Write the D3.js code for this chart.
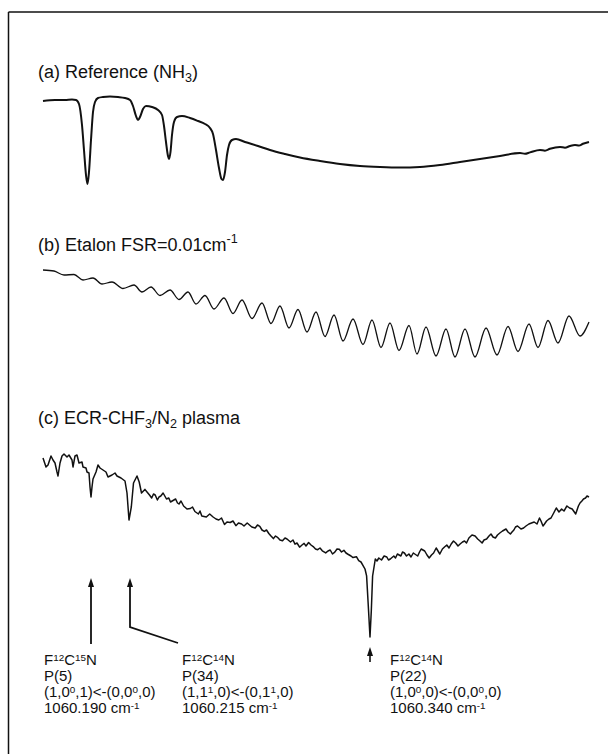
<!DOCTYPE html>
<html><head><meta charset="utf-8">
<script src="https://cdn.jsdelivr.net/npm/d3@7"></script>
<style>html,body{margin:0;padding:0;background:#fff;}svg{display:block;}</style>
</head><body>
<script>
// ---- DATA (scan channel, signal in arbitrary units) ----
const panelTitles = ["(a) Reference (NH_{3})", "(b) Etalon FSR=0.01cm^{-1}", "(c) ECR-CHF_{3}/N_{2} plasma"];

// (a) NH3 reference absorption: [channel, signal]
const refNH3 = [
 [0,84],[12,85],[22,85],[29,85.5],[33,85],[36,81],[39,60],[41,35],[43,10],[44.5,1],[46,13],[48,45],[50,73],[52,83],[55,87],[60,88],[67,88.5],[75,88],[82,87],[87,85],[90,79],[93,69],[95,65],[97,68],[100,76],[103,79],[109,78],[115,75],[119,70],[121,59],[123,43],[125,29],[126,26],[127.5,33],[129,50],[131,63],[134,68],[139,69],[147,67],[155,64],[162,61],[167,57],[170,51],[173,35],[176,17],[178.5,6],[180,5],[182,13],[184,30],[186,40],[189,45],[193,46],[202,43],[215,39],[227,35],[242,31],[257,27.5],[277,24],[297,21],[317,19],[337,18],[357,17.5],[377,18],[397,20],[417,23],[437,26],[457,29],[477,32],[482,31.2],[487,32.6],[497,35],[502,34.3],[507,36.2],[517,38],[522,37.3],[527,39],[532,40],[536,39.4],[540,41.2],[546,43]
];

// (b) Etalon fringes: extrema [channel, signal]
const etalonPeaksCh   = [11,31,50,69,91,108,127,145,162,181,199,219,237,255,273,291,310,329,347,366,383,403,422,443,465,486,505,526];
const etalonPeaksVal  = [89,85.5,82,78,75,73,70,68,64.5,62,60,57,54,50.5,48,45,41,40,37,34.5,33,31,31,32,33.5,36,39.5,44];
const etalonTroughsCh = [21,40,59,80,99,117,136,153,171,190,209,228,246,264,282,300,320,338,356,374,393,412,432,454,475,495,515,537];
const etalonTroughsVal= [85,80,76,71.5,68,64.5,60.5,56,51,46.5,41.5,36.5,32,28,23.5,19,15.5,12.5,9.5,6,4,3,3,5,8.5,12.5,17,24];
const etalonStart = [0,90];
const etalonEnd = [546,38];

// (c) ECR plasma absorption: [channel, signal]
const plasma = [
 [0,182],[3,173],[5,175],[8,184],[10,180],[12,177],[14,168],[15,164],[17,177],[19,184],[21,186],[24,183],[26,185],[29,180],[30,173],[32,184],[34,185],[36,177],[39,178],[40,173],[43,172],[44,168],[46,167],[47,153],[48,143],[49,153],[50,161],[53,168],[55,175],[57,172],[60,170],[63,168],[65,163],[69,165],[72,167],[74,164],[78,162],[82,159],[84,147],[86,120],
 [88.3,133],[90.5,157],[94,164],[96.2,158],[98.5,147],[101.9,150.6],[104,148],[106.5,145],[108.7,142],[110.5,146],[112.2,145],[114.4,140],[116,143],[117.8,144],[120.1,147],[123.5,141],[125.8,142],[127.5,138],[129.2,139],[132.6,141],[134.5,137],[136,136],[138,139],[140.6,134],[144,131],[147.4,131.5],[149.5,133],[151.9,128.5],[155.4,126],[157,129],[158.8,124],[163.3,123],[166.7,126],[170.1,123],[173,121],[175.8,120],[178.5,122],[181.5,115.5],[184,118],[187.2,117.5],[190,119],[192.9,114.3],[195.5,117],[198.6,116],[201,114],[204.2,117],[208.8,113],[212.2,112],[214.5,115],[216.8,113.7],[219,110],[221.3,108.6],[223.5,110],[225.8,106.5],[228,104],[230.4,101.4],[232.5,104],[234.9,102.3],[237,100],[239.5,99.2],[242,102],[244,101],[247.5,98],[250,100],[252,95.9],[254,97],[256.6,92.8],[259,95],[261.1,96.6],[263,94],[265.6,97.5],[268,95],[270.2,93.4],[272.5,91],[274.7,90.3],[277,92],[279.3,89.2],[282.7,87.1],[285,89],[287.2,90],[289.5,86],[291.8,87.9],[294,91],[296.3,90.8],[298.5,88],[300.9,89.7],[303,87],[305.4,85.5],[308,84],[310,82.4],[313.4,83.3],[315.7,79.3],[318,78],[320.2,74.2],[322,71],[323.6,64.1],[325.3,34],[327,3],
 [328.3,29],[329.6,64],[332.3,81],[334,79],[335.8,82],[338.5,80],[341.1,84],[343.8,83],[345.5,80],[347.3,81],[350.8,84],[352.5,82],[354.4,86],[357.9,84],[359.5,88],[361.4,87],[363.5,84],[365.9,86],[368,83],[370.3,87],[374.7,84],[376.5,88],[378.2,91],[381.7,89],[384,85],[386.2,82],[388.5,85],[390.6,87],[393.2,92],[395,89],[396.8,86],[399.4,91],[401.5,93],[403.8,95],[406,92],[408.2,96],[410.5,99],[412.7,97],[415,94],[417.1,96],[419.5,98],[421.5,99],[423.5,97],[425.9,102],[429,105],[432.1,104],[434.7,101],[437,99],[439.1,97],[441,100],[443.6,101],[446,104],[448,106],[450,103],[452.4,102],[454.5,105],[456.8,107],[459.5,109],[463,111],[465,108],[467.4,106],[469,108],[470.9,110],[472.5,113],[474.5,114],[478,111],[480.6,112],[483,114],[485.9,116],[488.5,117],[491.2,118],[494,116],[496.5,122],[498,119],[500,114],[501.5,116],[503.6,119],[506,121],[508,122],[510.7,127],[513.3,132],[516,128],[518.6,131],[521,129],[523.9,134],[526.6,132],[529.2,131],[532.7,126],[535.4,134],[537,137],[538.9,139],[540.5,141],[542.5,142],[544,144],[546,143]
];

// Line assignments
const lineChannels = [48, 87, 327];
const lineLabels = [
 ["F^{12}C^{15}N", "P(5)", "(1,0^{0},1)<-(0,0^{0},0)", "1060.190 cm^{-1}"],
 ["F^{12}C^{14}N", "P(34)", "(1,1^{1},0)<-(0,1^{1},0)", "1060.215 cm^{-1}"],
 ["F^{12}C^{14}N", "P(22)", "(1,0^{0},0)<-(0,0^{0},0)", "1060.340 cm^{-1}"]
];
const labelChannels = [1, 139, 347];

// ---- LAYOUT ----
const W = 608, H = 754;
const FONT = "'Liberation Sans', Arial, Helvetica, sans-serif";
const svg = d3.select("body").append("svg").attr("width", W).attr("height", H);
svg.append("rect").attr("width", W).attr("height", H).attr("fill", "#fff");

const x = d3.scaleLinear().domain([0, 546]).range([43, 589]);
const yA = d3.scaleLinear().domain([0, 100]).range([185, 85]);
const yB = d3.scaleLinear().domain([0, 100]).range([360, 260]);
const yC = d3.scaleLinear().domain([0, 180]).range([640, 460]);

// frame
svg.append("line").attr("x1", 8.5).attr("x2", W).attr("y1", 12).attr("y2", 12).attr("stroke", "#111").attr("stroke-width", 1.5);
svg.append("line").attr("x1", 8.5).attr("x2", 8.5).attr("y1", 12).attr("y2", H).attr("stroke", "#111").attr("stroke-width", 1.5);

function rich(sel, str, fs, supRaise, supSize) {
  const parts = str.split(/(\^\{[^}]*\}|_\{[^}]*\})/).filter(p => p.length);
  let cur = 0;
  parts.forEach(p => {
    let txt = p, target = 0, size = fs;
    if (p.startsWith("^{")) { txt = p.slice(2, -1); target = -supRaise * fs; size = supSize * fs; }
    else if (p.startsWith("_{")) { txt = p.slice(2, -1); target = 0.25 * fs; size = 0.7 * fs; }
    sel.append("tspan").attr("dy", target - cur).attr("font-size", size).text(txt);
    cur = target;
  });
}

// titles
const titleY = [77.5, 250.5, 423.5];
panelTitles.forEach((t, i) => {
  const tx = svg.append("text").attr("x", 38).attr("y", titleY[i])
    .attr("font-family", FONT).attr("font-size", 18).attr("fill", "#111");
  rich(tx, t, 18, 0.4, 0.7);
});

// traces
const lineA = d3.line().x(d => x(d[0])).y(d => yA(d[1])).curve(d3.curveMonotoneX);
svg.append("path").datum(refNH3).attr("d", lineA).attr("fill", "none").attr("stroke", "#111").attr("stroke-width", 2).attr("stroke-linejoin", "round");

const etalon = [etalonStart];
etalonPeaksCh.forEach((c, i) => {
  etalon.push([c, etalonPeaksVal[i]]);
  etalon.push([etalonTroughsCh[i], etalonTroughsVal[i]]);
});
etalon.push(etalonEnd);
const lineB = d3.line().x(d => x(d[0])).y(d => yB(d[1])).curve(d3.curveMonotoneX);
svg.append("path").datum(etalon).attr("d", lineB).attr("fill", "none").attr("stroke", "#111").attr("stroke-width", 1.3);

const lineC = d3.line().x(d => x(d[0])).y(d => yC(d[1]));
svg.append("path").datum(plasma).attr("d", lineC).attr("fill", "none").attr("stroke", "#111").attr("stroke-width", 1.5).attr("stroke-linejoin", "round");

// arrows
function arrowHead(px, py) {
  svg.append("path").attr("d", `M${px},${py} L${px-3},${py+9} L${px+3},${py+9} Z`).attr("fill", "#111");
}
const a1 = x(lineChannels[0]), a2 = x(lineChannels[1]), a3 = x(lineChannels[2]);
const l2 = x(labelChannels[1]);
svg.append("path").attr("d", `M${a1},584 L${a1},644`).attr("stroke", "#111").attr("stroke-width", 1.8).attr("fill", "none");
arrowHead(a1, 578);
svg.append("path").attr("d", `M${a2},584 L${a2},627 L${l2-4},643`).attr("stroke", "#111").attr("stroke-width", 1.8).attr("fill", "none");
arrowHead(a2, 578);
svg.append("path").attr("d", `M${a3},653 L${a3},662`).attr("stroke", "#111").attr("stroke-width", 1.6).attr("fill", "none");
arrowHead(a3, 647);

// line labels
const lblY = [665, 681, 697, 713];
lineLabels.forEach((lines, i) => {
  lines.forEach((ln, j) => {
    const t = svg.append("text").attr("x", x(labelChannels[i])).attr("y", lblY[j])
      .attr("font-family", FONT).attr("font-size", 15).attr("fill", "#111");
    rich(t, ln, 15, 0.3, 0.66);
  });
});
</script>
</body></html>
